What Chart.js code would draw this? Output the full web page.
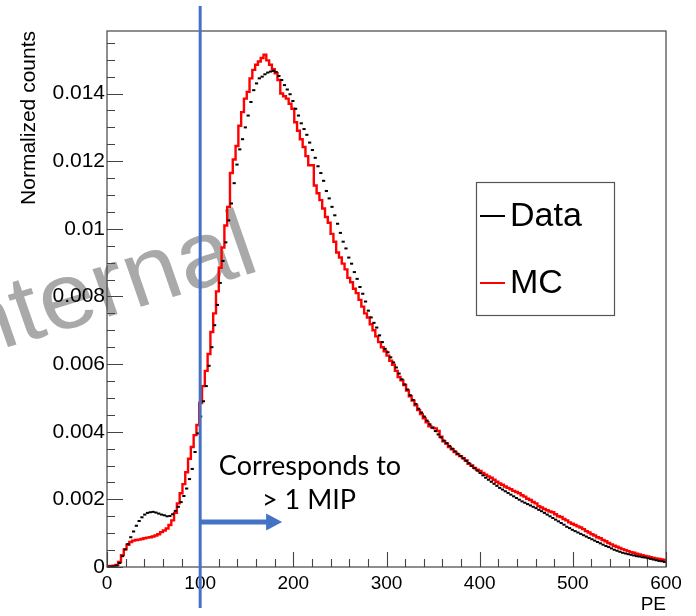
<!DOCTYPE html>
<html>
<head>
<meta charset="utf-8">
<script src="https://cdn.jsdelivr.net/npm/chart.js@4.4.1/dist/chart.umd.min.js"></script>
<style>
  html, body { margin: 0; padding: 0; background: #ffffff; }
  #wrap { width: 696px; height: 616px; position: relative; }
</style>
</head>
<body>
<div id="wrap"><canvas id="c" width="696" height="616"></canvas></div>
<script>
// ---------------- data ----------------
const binWidthPE = 3;
const binLowEdges = Array.from({ length: 200 }, (_, i) => i * binWidthPE); // 0 .. 597 PE

// Data (black markers), normalized counts per 3-PE bin
const dataCounts = [
  0.00001, 0.00001, 0.00002, 0.00004, 0.00012, 0.00032, 0.00052, 0.00068, 0.00088, 0.00105,
  0.00122, 0.00136, 0.00147, 0.00155, 0.00160, 0.00162, 0.00163, 0.00161, 0.00158, 0.00155,
  0.00153, 0.00150, 0.00151, 0.00156, 0.00166, 0.00178, 0.00192, 0.00210, 0.00232, 0.00260,
  0.00290, 0.00340, 0.00395, 0.00445, 0.00490, 0.00535, 0.00595, 0.00650, 0.00715, 0.00775,
  0.00840, 0.00905, 0.00960, 0.01025, 0.01075, 0.01135, 0.01190, 0.01235, 0.01265, 0.01300,
  0.01335, 0.01375, 0.01410, 0.01430, 0.01445, 0.01450, 0.01457, 0.01462, 0.01465, 0.01467,
  0.01464, 0.01452, 0.01440, 0.01425, 0.01412, 0.01398, 0.01378, 0.01355, 0.01335, 0.01312,
  0.01295, 0.01278, 0.01255, 0.01233, 0.01210, 0.01185, 0.01165, 0.01142, 0.01112, 0.01090,
  0.01065, 0.01040, 0.01015, 0.00988, 0.00962, 0.00942, 0.00915, 0.00897, 0.00872, 0.00852,
  0.00828, 0.00808, 0.00785, 0.00758, 0.00738, 0.00722, 0.00708, 0.00685, 0.00665, 0.00645,
  0.00635, 0.00620, 0.00605, 0.00590, 0.00572, 0.00555, 0.00540, 0.00525, 0.00508, 0.00494,
  0.00482, 0.00468, 0.00457, 0.00445, 0.00433, 0.00422, 0.00412, 0.00402, 0.00392, 0.00383,
  0.00374, 0.00366, 0.00358, 0.00350, 0.00342, 0.00335, 0.00328, 0.00321, 0.00314, 0.00307,
  0.00299, 0.00292, 0.00285, 0.00278, 0.00271, 0.00264, 0.00258, 0.00252, 0.00246, 0.00240,
  0.00234, 0.00229, 0.00224, 0.00219, 0.00214, 0.00209, 0.00204, 0.00199, 0.00194, 0.00190,
  0.00186, 0.00182, 0.00178, 0.00174, 0.00169, 0.00165, 0.00160, 0.00155, 0.00150, 0.00145,
  0.00140, 0.00135, 0.00130, 0.00125, 0.00119, 0.00115, 0.00110, 0.00106, 0.00102, 0.00098,
  0.00094, 0.00090, 0.00086, 0.00082, 0.00078, 0.00074, 0.00070, 0.00066, 0.00062, 0.00059,
  0.00055, 0.00051, 0.00048, 0.00045, 0.00042, 0.00040, 0.00038, 0.00036, 0.00034, 0.00032,
  0.00031, 0.00029, 0.00028, 0.00026, 0.00024, 0.00022, 0.00020, 0.00018, 0.00017, 0.00015
];

// MC (red histogram), normalized counts per 3-PE bin
const mcCounts = [
  0.00002, 0.00003, 0.00004, 0.00006, 0.00015, 0.00035, 0.00052, 0.00066, 0.00074, 0.00078,
  0.00080, 0.00081, 0.00083, 0.00085, 0.00087, 0.00088, 0.00090, 0.00093, 0.00097, 0.00103,
  0.00108, 0.00114, 0.00124, 0.00138, 0.00160, 0.00188, 0.00218, 0.00245, 0.00280, 0.00320,
  0.00355, 0.00390, 0.00420, 0.00485, 0.00535, 0.00580, 0.00630, 0.00695, 0.00750, 0.00815,
  0.00885, 0.00945, 0.01010, 0.01065, 0.01165, 0.01205, 0.01245, 0.01305, 0.01345, 0.01385,
  0.01405, 0.01445, 0.01470, 0.01485, 0.01495, 0.01505, 0.01515, 0.01498, 0.01485, 0.01472,
  0.01460, 0.01440, 0.01400, 0.01392, 0.01385, 0.01370, 0.01355, 0.01315, 0.01290, 0.01265,
  0.01242, 0.01215, 0.01188, 0.01188, 0.01128, 0.01105, 0.01085, 0.01060, 0.01035, 0.01018,
  0.00985, 0.00962, 0.00930, 0.00915, 0.00897, 0.00880, 0.00855, 0.00842, 0.00823, 0.00810,
  0.00790, 0.00770, 0.00750, 0.00738, 0.00718, 0.00700, 0.00682, 0.00665, 0.00650, 0.00638,
  0.00625, 0.00610, 0.00598, 0.00580, 0.00562, 0.00552, 0.00538, 0.00522, 0.00505, 0.00492,
  0.00478, 0.00464, 0.00452, 0.00440, 0.00428, 0.00416, 0.00412, 0.00410, 0.00402, 0.00385,
  0.00372, 0.00365, 0.00355, 0.00348, 0.00340, 0.00333, 0.00328, 0.00322, 0.00315, 0.00305,
  0.00300, 0.00293, 0.00288, 0.00284, 0.00278, 0.00273, 0.00268, 0.00264, 0.00258, 0.00252,
  0.00247, 0.00243, 0.00238, 0.00234, 0.00230, 0.00225, 0.00222, 0.00218, 0.00212, 0.00208,
  0.00202, 0.00198, 0.00192, 0.00188, 0.00180, 0.00176, 0.00172, 0.00168, 0.00164, 0.00162,
  0.00156, 0.00150, 0.00148, 0.00142, 0.00138, 0.00132, 0.00128, 0.00124, 0.00120, 0.00117,
  0.00112, 0.00106, 0.00102, 0.00097, 0.00093, 0.00088, 0.00085, 0.00080, 0.00076, 0.00071,
  0.00067, 0.00063, 0.00060, 0.00056, 0.00053, 0.00050, 0.00047, 0.00044, 0.00042, 0.00039,
  0.00037, 0.00035, 0.00033, 0.00031, 0.00029, 0.00027, 0.00025, 0.00024, 0.00022, 0.00021
];

const seriesLabels = ['Data', 'MC'];
const xTickValues = [0, 100, 200, 300, 400, 500, 600];
const xTickLabels = ['0', '100', '200', '300', '400', '500', '600'];
const yTickValues = [0, 0.002, 0.004, 0.006, 0.008, 0.010, 0.012, 0.014];
const yTickLabels = ['0', '0.002', '0.004', '0.006', '0.008', '0.01', '0.012', '0.014'];
const xMinorStep = 20;
const yMinorStep = 0.0005;
const xRange = [0, 600];
const yRange = [0, 0.01585];
const xTitle = 'PE';
const yTitle = 'Normalized counts';

// annotation
const cutPE = 100;
const arrowEndPE = 188;
const arrowLevel = 0.00133;
const annotationLines = ['Corresponds to', '> 1 MIP'];
const watermarkText = 'Internal';

// ---------------- styles ----------------
const FONT = "'Liberation Sans', Arial, Helvetica, sans-serif";
const NOTE_FONT = "Lato, 'Open Sans', sans-serif";
const BLUE = '#4472c4';

const watermarkPlugin = {
  id: 'watermark',
  beforeDraw(chart) {
    const ctx = chart.ctx;
    ctx.save();
    ctx.fillStyle = '#ffffff';
    ctx.fillRect(0, 0, chart.width, chart.height);
    ctx.translate(262, 270);
    ctx.scale(1.07, 1);
    ctx.rotate(-18 * Math.PI / 180);
    ctx.font = '94px ' + FONT;
    ctx.fillStyle = '#a9a9a9';
    ctx.textAlign = 'right';
    ctx.textBaseline = 'alphabetic';
    ctx.fillText(watermarkText, 0, 0);
    ctx.restore();
  }
};

const frameTicksPlugin = {
  id: 'frameTicks',
  afterDatasetsDraw(chart) {
    const { ctx, chartArea: a, scales: { x, y } } = chart;
    ctx.save();
    ctx.strokeStyle = '#444444';
    ctx.lineWidth = 1.2;
    ctx.strokeRect(a.left, a.top, a.right - a.left, a.bottom - a.top);
    ctx.lineWidth = 1.1;
    ctx.beginPath();
    for (let v = xRange[0]; v <= xRange[1] + 1e-9; v += xMinorStep) {
      const px = Math.round(x.getPixelForValue(v)) + 0.5;
      const major = xTickValues.includes(v);
      ctx.moveTo(px, a.bottom);
      ctx.lineTo(px, a.bottom - (major ? 15 : 8));
    }
    const nY = Math.floor((yRange[1] - yRange[0]) / yMinorStep + 1e-9);
    for (let k = 0; k <= nY; k++) {
      const v = yRange[0] + k * yMinorStep;
      const py = Math.round(y.getPixelForValue(v)) + 0.5;
      const major = k % 4 === 0;
      ctx.moveTo(a.left, py);
      ctx.lineTo(a.left + (major ? 16 : 8), py);
    }
    ctx.stroke();
    ctx.restore();
  }
};

const overlayPlugin = {
  id: 'overlay',
  afterDraw(chart) {
    const { ctx, chartArea: a, scales: { x, y } } = chart;
    ctx.save();
    // legend box
    const lx = 476, ly = 182, lw = 138, lh = 133;
    ctx.fillStyle = '#ffffff';
    ctx.fillRect(lx, ly, lw, lh);
    ctx.strokeStyle = '#555555';
    ctx.lineWidth = 1.2;
    ctx.strokeRect(lx + 0.5, ly + 0.5, lw, lh);
    const entries = chart.data.datasets.map(d => ({ label: d.label, color: d.legendColor }));
    const rows = [216, 283];
    ctx.font = '34px ' + FONT;
    ctx.textBaseline = 'middle';
    ctx.textAlign = 'left';
    entries.forEach((e, i) => {
      ctx.strokeStyle = e.color;
      ctx.lineWidth = 2;
      ctx.beginPath();
      ctx.moveTo(480, rows[i]);
      ctx.lineTo(505, rows[i]);
      ctx.stroke();
      ctx.fillStyle = '#000000';
      ctx.fillText(e.label, 510, rows[i] + 1);
    });

    // vertical cut line
    const cx = x.getPixelForValue(cutPE);
    ctx.strokeStyle = BLUE;
    ctx.lineWidth = 3;
    ctx.beginPath();
    ctx.moveTo(cx, 6);
    ctx.lineTo(cx, 608);
    ctx.stroke();

    // arrow
    const ay = y.getPixelForValue(arrowLevel);
    const ax2 = x.getPixelForValue(arrowEndPE);
    ctx.lineWidth = 5;
    ctx.beginPath();
    ctx.moveTo(cx, ay);
    ctx.lineTo(ax2 - 14, ay);
    ctx.stroke();
    ctx.fillStyle = BLUE;
    ctx.beginPath();
    ctx.moveTo(ax2, ay);
    ctx.lineTo(ax2 - 16, ay - 8.5);
    ctx.lineTo(ax2 - 16, ay + 8.5);
    ctx.closePath();
    ctx.fill();

    // annotation text
    ctx.fillStyle = '#000000';
    ctx.font = '27px ' + NOTE_FONT;
    ctx.textAlign = 'center';
    ctx.textBaseline = 'alphabetic';
    ctx.fillText(annotationLines[0], 310, 475);
    ctx.fillText(annotationLines[1], 309, 509);
    ctx.restore();
  }
};

new Chart(document.getElementById('c'), {
  type: 'line',
  data: {
    datasets: [
      {
        label: seriesLabels[0],
        legendColor: '#000000',
        data: binLowEdges.map((e, i) => ({ x: e + binWidthPE / 2, y: dataCounts[i] })),
        showLine: false,
        pointStyle: 'line',
        pointRadius: 1.6,
        pointHoverRadius: 1.6,
        pointBorderWidth: 2,
        pointBorderColor: '#000000',
        borderColor: '#000000',
        backgroundColor: '#000000'
      },
      {
        label: seriesLabels[1],
        legendColor: '#ff0000',
        data: binLowEdges.map((e, i) => ({ x: e, y: mcCounts[i] }))
          .concat([{ x: xRange[1], y: mcCounts[mcCounts.length - 1] }]),
        stepped: 'before',
        borderColor: '#ff0000',
        borderWidth: 2.4,
        pointRadius: 0,
        pointHoverRadius: 0,
        fill: false
      }
    ]
  },
  options: {
    responsive: false,
    animation: false,
    devicePixelRatio: 1,
    events: [],
    layout: { padding: { left: 0, top: 31, right: 30, bottom: 0 } },
    plugins: { legend: { display: false }, tooltip: { enabled: false } },
    scales: {
      x: {
        type: 'linear',
        min: xRange[0],
        max: xRange[1],
        grid: { display: false, drawTicks: false },
        border: { display: false },
        afterBuildTicks: s => { s.ticks = xTickValues.map(v => ({ value: v })); },
        afterFit: s => { s.height = 49; },
        ticks: {
          autoSkip: false,
          maxRotation: 0,
          padding: 5,
          color: '#000000',
          font: { family: FONT, size: 19 },
          callback: (v, i) => xTickLabels[i]
        },
        title: {
          display: true, text: xTitle, align: 'end', color: '#000000',
          font: { family: FONT, size: 19 }, padding: { top: 0, bottom: 0 }
        }
      },
      y: {
        type: 'linear',
        min: yRange[0],
        max: yRange[1],
        grid: { display: false, drawTicks: false },
        border: { display: false },
        afterBuildTicks: s => { s.ticks = yTickValues.map(v => ({ value: v })); },
        afterFit: s => { s.width = 107; },
        ticks: {
          autoSkip: false,
          padding: 2,
          color: '#000000',
          font: { family: FONT, size: 21 },
          callback: (v, i) => yTickLabels[i]
        },
        title: {
          display: true, text: yTitle, align: 'end', color: '#000000',
          font: { family: FONT, size: 21 }, padding: { top: 17, bottom: 0 }
        }
      }
    }
  },
  plugins: [watermarkPlugin, frameTicksPlugin, overlayPlugin]
});
</script>
</body>
</html>
